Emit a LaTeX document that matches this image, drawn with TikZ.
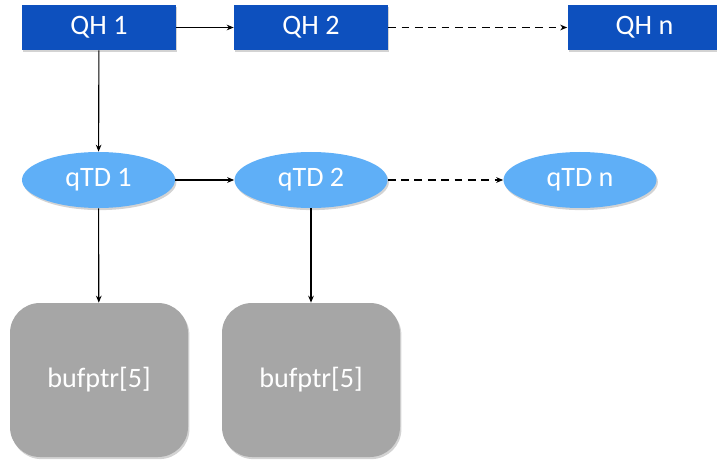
\documentclass[tikz,border=0pt]{standalone}
\usepackage{fontspec}
\setmainfont{Carlito}
\usepackage{tikz}
\usetikzlibrary{shapes.geometric}
\usetikzlibrary{shadows}
\usetikzlibrary{arrows.meta}
\definecolor{qhblue}{HTML}{0D50BE}
\definecolor{tdblue}{HTML}{5FAFF7}
\definecolor{bufgray}{HTML}{A6A6A6}
\tikzset{%
    qh/.style={rectangle,fill=qhblue,text=white,minimum width=3.85cm,minimum height=1.125cm,
        drop shadow={opacity=0.35,shadow xshift=1pt,shadow yshift=-1.5pt},font=\fontsize{20}{24}\selectfont},
    td/.style={ellipse,fill=tdblue,text=white,minimum width=3.825cm,minimum height=1.4cm,inner sep=0pt,
        drop shadow={opacity=0.35,shadow xshift=1pt,shadow yshift=-1.5pt},font=\fontsize{20}{24}\selectfont},
    buf/.style={rectangle,rounded corners=0.75cm,fill=bufgray,text=white,minimum width=4.45cm,minimum height=3.85cm,
        drop shadow={opacity=0.35,shadow xshift=1pt,shadow yshift=-1.5pt},font=\fontsize{20}{24}\selectfont}
}

\begin{document}
\begin{tikzpicture}[
            link/.style={thick,-{Stealth[length=5pt,width=4pt]}},
            dlink/.style={thick,dash pattern=on 5.5pt off 4pt,-{Stealth[length=5pt,width=4pt]}}
            ]
            \useasboundingbox (0,0) rectangle (17.925,-11.55);

            \node[qh] (qh1) at (2.475,-0.6875){QH 1};
            \node[qh] (qh2) at (7.775,-0.6875){QH 2};
            \node[qh] (qhn) at (16.1125,-0.6875){QH n};

            \node[td] (td1) at (2.4625,-4.5){qTD 1};
            \node[td] (td2) at (7.775,-4.5){qTD 2};
            \node[td] (tdn) at (14.5,-4.5){qTD n};

            \node[buf] (buf1) at (2.475,-9.5){bufptr[5]};
            \node[buf] (buf2) at (7.775,-9.5){bufptr[5]};

            \draw[link] (qh1) -- (qh2);
            \draw[dlink] (qh2) -- (qhn);
            \draw[link] (qh1) -- (td1);
            \draw[link] (td1) -- (td2);
            \draw[dlink] (td2) -- (tdn);
            \draw[link] (td1) -- (buf1);
            \draw[link] (td2) -- (buf2);
        \end{tikzpicture}
\end{document}
